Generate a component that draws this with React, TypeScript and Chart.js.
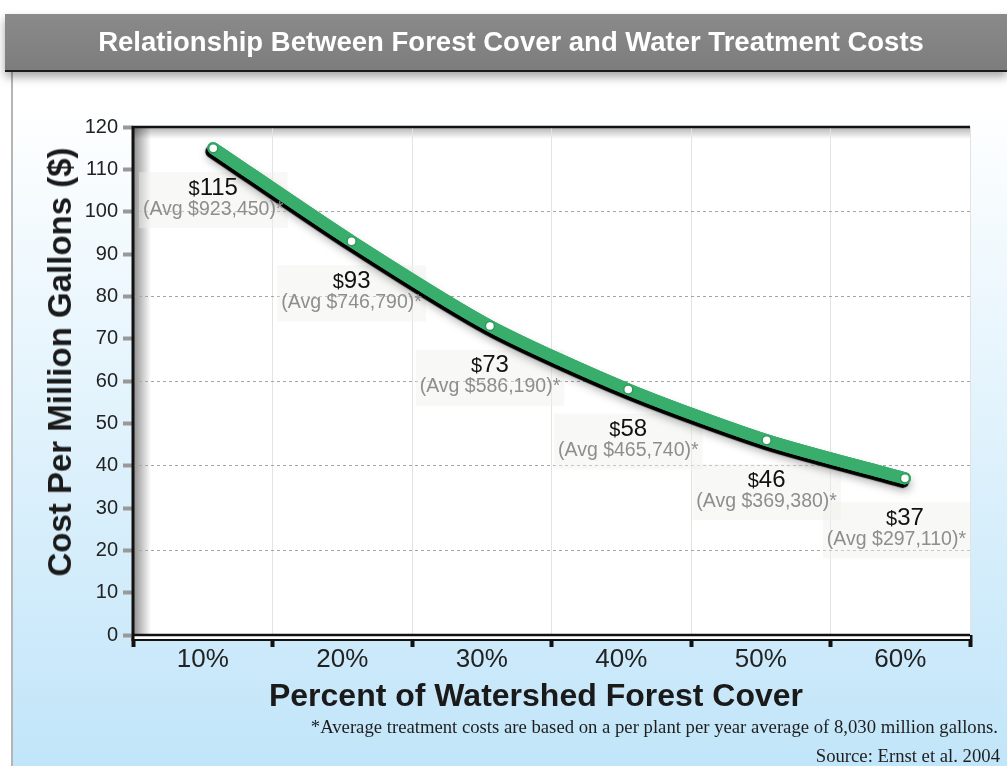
import React, { useEffect, useRef } from "react";
import { Chart, registerables } from "chart.js";

Chart.register(...registerables);

const chartTitle = "Relationship Between Forest Cover and Water Treatment Costs";
const xAxisTitle = "Percent of Watershed Forest Cover";
const yAxisTitle = "Cost Per Million Gallons ($)";
const footnote = "*Average treatment costs are based on a per plant per year average of 8,030 million gallons.";
const sourceNote = "Source: Ernst et al. 2004";

const forestCover = ["10%", "20%", "30%", "40%", "50%", "60%"];
const forestCoverValues = [10, 20, 30, 40, 50, 60];
const costPerMillionGallons = [115, 93, 73, 58, 46, 37];
const avgAnnualCost = ["$923,450", "$746,790", "$586,190", "$465,740", "$369,380", "$297,110"];

const yMin = 0;
const yMax = 120;
const yStep = 10;
const dottedGridValues = [20, 40, 60, 80, 100];
const pointAxisMin = 4.2;
const pointAxisMax = 64.7;

const FONT = "'Liberation Sans', Arial, Helvetica, sans-serif";
const GREEN = "#39ae6c";

const plotBackground = {
  id: "plotBackground",
  beforeDraw(chart: any) {
    const { ctx, chartArea } = chart;
    const { left, top, right, bottom } = chartArea;
    ctx.save();
    ctx.fillStyle = "#ffffff";
    ctx.fillRect(left, top, right - left, bottom - top);
    const gl = ctx.createLinearGradient(left, 0, left + 18, 0);
    gl.addColorStop(0, "rgba(0,0,0,0.45)");
    gl.addColorStop(1, "rgba(0,0,0,0)");
    ctx.fillStyle = gl;
    ctx.fillRect(left, top, 18, bottom - top);
    const gt = ctx.createLinearGradient(0, top, 0, top + 12);
    gt.addColorStop(0, "rgba(0,0,0,0.3)");
    gt.addColorStop(1, "rgba(0,0,0,0)");
    ctx.fillStyle = gt;
    ctx.fillRect(left, top, right - left, 12);
    ctx.restore();
  },
};

const lineShadow = {
  id: "lineShadow",
  beforeDatasetDraw(chart: any, args: any) {
    const meta = args.meta;
    if (!meta || !meta.dataset) return;
    const ctx = chart.ctx;
    ctx.save();
    ctx.shadowColor = "rgba(0,0,0,0.35)";
    ctx.shadowBlur = 10;
    ctx.shadowOffsetX = 0;
    ctx.shadowOffsetY = 6;
    meta.dataset.draw(ctx, chart.chartArea);
    ctx.restore();
    ctx.save();
    ctx.shadowColor = "rgba(0,0,0,1)";
    ctx.shadowBlur = 1;
    ctx.shadowOffsetX = -2;
    ctx.shadowOffsetY = 3.5;
    meta.dataset.draw(ctx, chart.chartArea);
    ctx.restore();
  },
};

const VALUE_OFFSET = 38;
const AVG_OFFSET = 61;

function measureLabel(ctx: any, i: number) {
  ctx.font = `20px ${FONT}`;
  const dollarW = ctx.measureText("$").width;
  ctx.font = `19.5px ${FONT}`;
  const avgText = `(Avg ${avgAnnualCost[i]})*`;
  const avgW = ctx.measureText(avgText).width;
  ctx.font = `24px ${FONT}`;
  const numW = ctx.measureText(String(costPerMillionGallons[i])).width;
  return { dollarW, numW, avgText, avgW };
}

function avgCenter(chart: any, x: number, avgW: number) {
  const limit = chart.chartArea.right - 4 - avgW / 2;
  return Math.min(x, limit);
}

const pointLabels = {
  id: "pointLabels",
  beforeDatasetsDraw(chart: any) {
    const ctx = chart.ctx;
    const meta = chart.getDatasetMeta(0);
    ctx.save();
    meta.data.forEach((pt: any, i: number) => {
      const { dollarW, numW, avgW } = measureLabel(ctx, i);
      const w = Math.max(avgW, dollarW + numW) + 8;
      const cx = avgCenter(chart, pt.x, avgW);
      ctx.fillStyle = "rgba(240,240,234,0.45)";
      ctx.fillRect(cx - w / 2, pt.y + 24, w, 56);
    });
    ctx.restore();
  },
  afterDatasetsDraw(chart: any) {
    const ctx = chart.ctx;
    const meta = chart.getDatasetMeta(0);
    ctx.save();
    meta.data.forEach((pt: any, i: number) => {
      const { dollarW, numW, avgText, avgW } = measureLabel(ctx, i);
      const total = dollarW + numW;
      const startX = pt.x - total / 2;
      const baseline = pt.y + VALUE_OFFSET + 8.5;
      ctx.textBaseline = "alphabetic";
      ctx.textAlign = "left";
      ctx.fillStyle = "#111";
      ctx.font = `20px ${FONT}`;
      ctx.fillText("$", startX, baseline);
      ctx.font = `24px ${FONT}`;
      ctx.fillText(String(costPerMillionGallons[i]), startX + dollarW, baseline);
      ctx.font = `19.5px ${FONT}`;
      ctx.fillStyle = "#8e8e8e";
      ctx.textAlign = "center";
      ctx.textBaseline = "middle";
      ctx.fillText(avgText, avgCenter(chart, pt.x, avgW), pt.y + AVG_OFFSET);
    });
    ctx.restore();
  },
};

const plotFrame = {
  id: "plotFrame",
  afterDraw(chart: any) {
    const { ctx, chartArea } = chart;
    const { left, top, right, bottom } = chartArea;
    ctx.save();
    ctx.fillStyle = "#ffffff";
    ctx.fillRect(left, bottom, right - left, 5);
    ctx.strokeStyle = "#111";
    ctx.lineWidth = 2.5;
    ctx.beginPath();
    ctx.moveTo(left, bottom);
    ctx.lineTo(right, bottom);
    ctx.stroke();
    ctx.lineWidth = 2;
    ctx.beginPath();
    ctx.moveTo(left, bottom + 5);
    ctx.lineTo(right, bottom + 5);
    ctx.stroke();
    ctx.lineWidth = 2.5;
    ctx.beginPath();
    ctx.moveTo(left - 1, top);
    ctx.lineTo(right, top);
    ctx.stroke();
    ctx.lineWidth = 3;
    ctx.beginPath();
    ctx.moveTo(left, top - 1);
    ctx.lineTo(left, bottom + 6);
    ctx.stroke();
    ctx.restore();
  },
};

function ForestChart() {
  const ref = useRef<HTMLCanvasElement | null>(null);
  useEffect(() => {
    if (!ref.current) return;
    const chart = new Chart(ref.current, {
      type: "line",
      data: {
        labels: forestCover,
        datasets: [
          {
            data: forestCoverValues.map((x, i) => ({ x, y: costPerMillionGallons[i] })),
            xAxisID: "xPts",
            borderColor: GREEN,
            borderWidth: 12,
            borderCapStyle: "round",
            borderJoinStyle: "round",
            tension: 0.25,
            fill: false,
            pointRadius: 4.5,
            pointBackgroundColor: "#ffffff",
            pointBorderColor: "#2f9a5c",
            pointBorderWidth: 1.5,
            clip: false,
          } as any,
        ],
      },
      options: {
        animation: false,
        responsive: false,
        devicePixelRatio: 1,
        layout: { padding: { top: 127, right: 37, left: 0, bottom: 0 } },
        plugins: {
          legend: { display: false },
          tooltip: { enabled: false },
          title: { display: false },
        },
        scales: {
          x: {
            type: "category",
            offset: true,
            afterFit: (scale: any) => {
              scale.height = 131;
            },
            grid: {
              offset: true,
              color: "#e3e3e3",
              lineWidth: 1,
              drawTicks: true,
              tickLength: 12,
              tickColor: "#111",
              tickWidth: 4,
            },
            border: { display: false },
            ticks: {
              color: "#222",
              font: { family: FONT, size: 26, lineHeight: 1 },
              padding: 0,
              maxRotation: 0,
            },
            title: { display: false },
          },
          xPts: {
            type: "linear",
            position: "bottom",
            display: false,
            min: pointAxisMin,
            max: pointAxisMax,
          },
          y: {
            min: yMin,
            max: yMax,
            afterFit: (scale: any) => {
              scale.width = 133;
            },
            grid: {
              color: (c: any) =>
                c.tick && dottedGridValues.includes(c.tick.value) ? "#a5a5a5" : "rgba(0,0,0,0)",
              lineWidth: 1,
              drawTicks: true,
              tickLength: 10,
              tickColor: "#999999",
              tickWidth: 4,
              tickBorderDash: [],
            },
            border: { display: false, dash: [3, 3] },
            ticks: {
              stepSize: yStep,
              color: "#222",
              font: { family: FONT, size: 20 },
              padding: 5,
            },
            title: { display: false },
          },
        },
      } as any,
      plugins: [plotBackground, lineShadow, pointLabels, plotFrame],
    });
    return () => chart.destroy();
  }, []);
  return (
    <canvas
      ref={ref}
      width={1007}
      height={766}
      style={{ position: "absolute", left: 0, top: 0, width: 1007, height: 766, zIndex: 2 }}
    />
  );
}

export default function App() {
  return (
    <div
      style={{
        position: "absolute",
        left: 0,
        top: 0,
        width: 1007,
        height: 766,
        background: "#ffffff",
        overflow: "hidden",
        fontFamily: FONT,
      }}
    >
      <div
        style={{
          position: "absolute",
          left: 11,
          top: 72,
          width: 996,
          height: 694,
          borderLeft: "2px solid #b5b5b5",
          background: "linear-gradient(to bottom, #ffffff 0%, #ffffff 4%, #c1e5f9 100%)",
          zIndex: 1,
        }}
      />
      <div
        style={{
          position: "absolute",
          left: 5,
          top: 14,
          width: 992,
          paddingLeft: 10,
          height: 56,
          lineHeight: "56px",
          background: "linear-gradient(to bottom, #8a8a8b 0%, #7d7d7e 100%)",
          borderBottom: "2px solid #1a1a1a",
          boxShadow: "0 5px 9px rgba(0,0,0,0.35)",
          color: "#ffffff",
          fontWeight: "bold",
          fontSize: 27.5,
          textAlign: "center",
          whiteSpace: "nowrap",
          zIndex: 3,
        }}
      >
        {chartTitle}
      </div>
      <ForestChart />
      <div
        style={{
          position: "absolute",
          left: 0,
          top: 677,
          width: 1072,
          lineHeight: "36px",
          textAlign: "center",
          fontWeight: "bold",
          fontSize: 32,
          color: "#1a1a1a",
          whiteSpace: "nowrap",
          zIndex: 3,
        }}
      >
        {xAxisTitle}
      </div>
      <div
        style={{
          position: "absolute",
          left: 60,
          top: 362,
          transform: "translate(-50%, -50%) rotate(-90deg)",
          lineHeight: "36px",
          fontWeight: "bold",
          fontSize: 33,
          color: "#1a1a1a",
          whiteSpace: "nowrap",
          zIndex: 3,
        }}
      >
        {yAxisTitle}
      </div>
      <div
        style={{
          position: "absolute",
          right: 9,
          top: 717,
          lineHeight: "20px",
          fontFamily: "'Liberation Serif', 'Times New Roman', serif",
          fontSize: 18.7,
          color: "#1e1e1e",
          whiteSpace: "nowrap",
          zIndex: 3,
        }}
      >
        {footnote}
      </div>
      <div
        style={{
          position: "absolute",
          right: 7,
          top: 746,
          lineHeight: "20px",
          fontFamily: "'Liberation Serif', 'Times New Roman', serif",
          fontSize: 18.7,
          color: "#1e1e1e",
          whiteSpace: "nowrap",
          zIndex: 3,
        }}
      >
        {sourceNote}
      </div>
    </div>
  );
}
